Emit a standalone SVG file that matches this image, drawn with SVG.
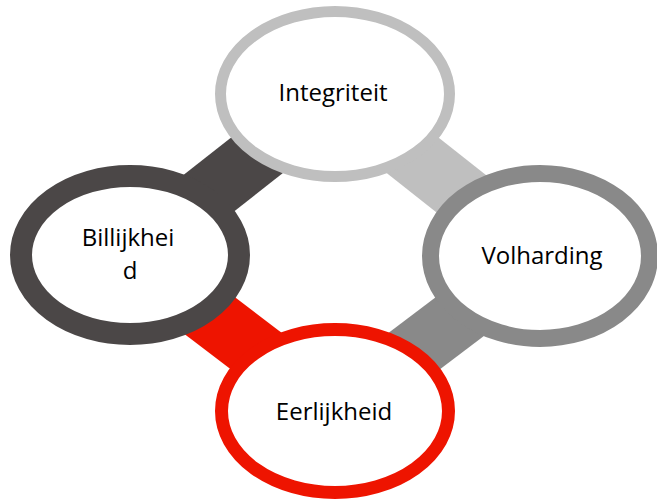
<svg xmlns="http://www.w3.org/2000/svg" width="657" height="502" viewBox="0 0 657 502">
  <style>
    .bar { stroke-width: 60; stroke-linecap: butt; fill: none; }
    .ring { fill: #FFFFFF; }
    .label { font-family: "Open Sans", "Liberation Sans", sans-serif; font-size: 24px; fill: #000000; text-anchor: middle; }
  </style>
  <rect width="657" height="502" fill="#FFFFFF"/>
  <!-- thick bars joining the circles, drawn beneath them -->
  <g id="connectors">
    <line class="bar" x1="130" y1="255" x2="335" y2="94" stroke="#4B4747"/>
    <line class="bar" x1="335" y1="94" x2="540" y2="256" stroke="#BFBFBF"/>
    <line class="bar" x1="540" y1="256" x2="335" y2="411" stroke="#898989"/>
    <line class="bar" x1="130" y1="255" x2="335" y2="411" stroke="#EE1400"/>
  </g>
  <g id="integriteit">
    <ellipse class="ring" cx="335" cy="94" rx="114.5" ry="82.5" stroke="#BFBFBF" stroke-width="11"/>
    <text class="label" x="333" y="101">Integriteit</text>
  </g>
  <g id="billijkheid">
    <ellipse class="ring" cx="130" cy="255" rx="109" ry="79" stroke="#4B4747" stroke-width="22"/>
    <text class="label" x="128" y="246">Billijkhei</text>
    <text class="label" x="130" y="279">d</text>
  </g>
  <g id="volharding">
    <ellipse class="ring" cx="540" cy="256" rx="109.5" ry="82.5" stroke="#898989" stroke-width="17"/>
    <text class="label" x="542" y="264">Volharding</text>
  </g>
  <g id="eerlijkheid">
    <ellipse class="ring" cx="335" cy="411" rx="113.5" ry="81.5" stroke="#EE1400" stroke-width="13"/>
    <text class="label" x="334" y="420">Eerlijkheid</text>
  </g>
</svg>
